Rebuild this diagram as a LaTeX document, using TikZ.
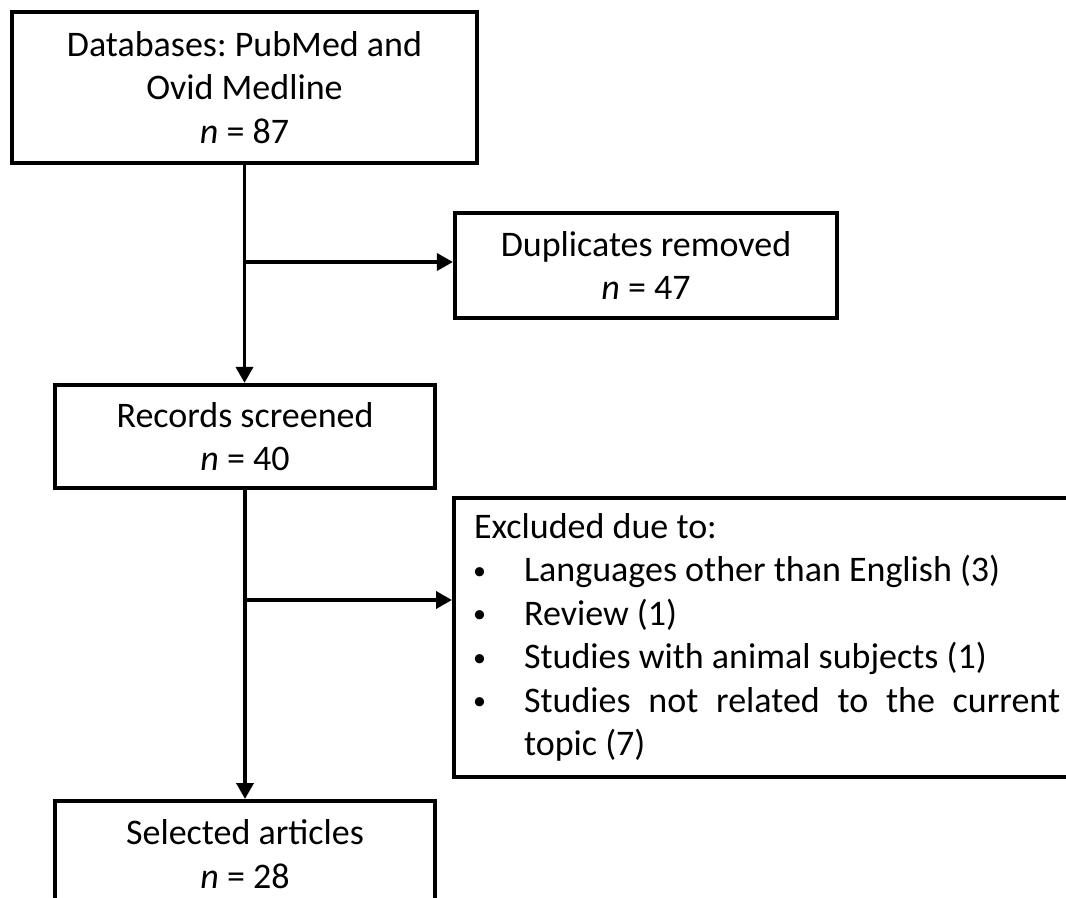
\documentclass[tikz,border=0pt]{standalone}
\usepackage{fontspec}
\setmainfont{Carlito}
\usetikzlibrary{arrows.meta}
\newcommand{\smallbul}{\hspace*{-0.5pt}\raisebox{1.2pt}{\fontsize{13}{13}\selectfont\textbullet}}
\begin{document}
\frenchspacing
\begin{tikzpicture}[x=0.5pt,y=-0.5pt,
  every node/.style={font=\fontsize{18}{21.7}\selectfont},
  flowbox/.style={draw=black, line width=2.1pt, rectangle, align=center, inner sep=0pt},
  conn/.style={line width=1.8pt},
  arr/.style={line width=1.8pt, -{Triangle[length=8pt,width=8.5pt]}}]
\useasboundingbox (0,0) rectangle (1066,898);
\node[flowbox, minimum width=232.5pt, minimum height=75.5pt] (db) at (244.5,87.5)
  {Databases: PubMed and\\Ovid Medline\\\textit{n} = 87};
\node[flowbox, minimum width=191pt, minimum height=52.5pt] (dup) at (646,265.5)
  {Duplicates removed\\\textit{n} = 47};
\node[flowbox, minimum width=190pt, minimum height=51.5pt] (rec) at (245,436.5)
  {Records screened\\\textit{n} = 40};
\node[flowbox, anchor=west, align=left, minimum height=139.5pt, inner xsep=10pt] (exc) at (452,637.5)
  {\parbox{293pt}{\frenchspacing Excluded due to:\\
   \makebox[25pt][l]{\smallbul}Languages other than English (3)\\
   \makebox[25pt][l]{\smallbul}Review (1)\\
   \makebox[25pt][l]{\smallbul}Studies with animal subjects (1)\\
   \makebox[25pt][l]{\smallbul}\makebox[268pt][s]{Studies not related to the current}\\
   \hspace*{25pt}topic (7)}};
\node[flowbox, anchor=north, minimum width=190pt, minimum height=53pt] (sel) at (245,799)
  {Selected articles\\\textit{n} = 28};
\coordinate (b1) at (245,262);
\coordinate (b2) at (245,600);
\draw[arr] (db.south) -- (db.south |- rec.north);
\draw[arr] (b1) -- (b1 -| dup.west);
\draw[arr] (rec.south) -- (sel.north);
\draw[arr] (b2) -- (b2 -| exc.west);
\end{tikzpicture}
\end{document}
